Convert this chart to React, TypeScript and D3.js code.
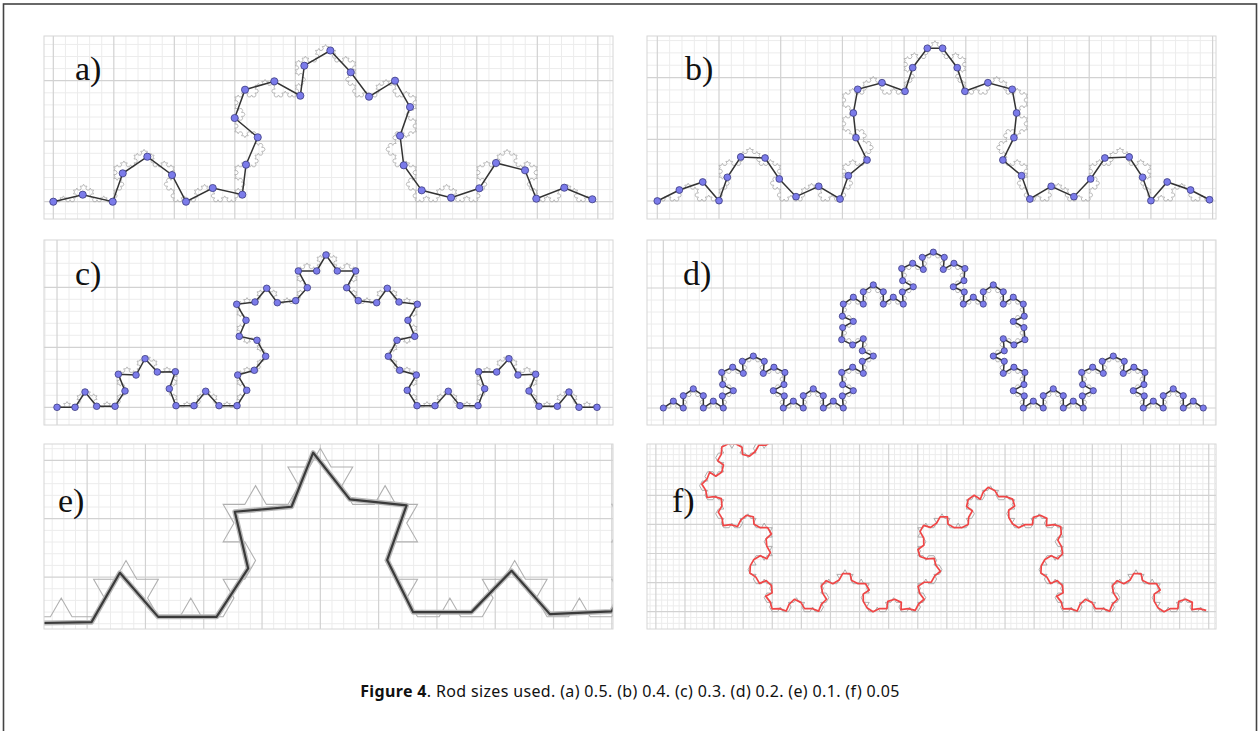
import React from "react";
import * as d3 from "d3";

type Pt = [number, number];

// rod size used for each panel (from the caption)
const rodSizes = [0.5, 0.4, 0.3, 0.2, 0.1, 0.05];
const panelLabels = ["a)", "b)", "c)", "d)", "e)", "f)"];
const captionBold = "Figure 4";
const captionRest = ". Rod sizes used. (a) 0.5. (b) 0.4. (c) 0.3. (d) 0.2. (e) 0.1. (f) 0.05";

// the Koch curve that the rods follow
const kochStart: Pt = [0, 0];
const kochEnd: Pt = [9, 0];
const kochLevel = 5;

// rod joints (curve units)
const rodsA: Pt[] = [
  [0, 0], [0.486, 0.116], [0.982, 0], [1.147, 0.469], [1.554, 0.744], [1.962, 0.441],
  [2.193, 0], [2.635, 0.226], [3.124, 0.116], [3.185, 0.612], [3.379, 1.064], [2.998, 1.383],
  [3.169, 1.851], [3.653, 1.99], [4.083, 1.752], [4.149, 2.248], [4.579, 2.499], [4.916, 2.139],
  [5.218, 1.736], [5.648, 2.0], [5.896, 1.565], [5.731, 1.091], [5.792, 0.602], [6.089, 0.188],
  [6.574, 0.066], [7.041, 0.221], [7.317, 0.64], [7.797, 0.519], [7.983, 0.05], [8.446, 0.231],
  [8.909, 0.04],
];

const rodsB: Pt[] = [
  [0, 0], [0.357, 0.178], [0.736, 0.308], [1.0, 0.005], [1.135, 0.384], [1.352, 0.713],
  [1.746, 0.697], [1.977, 0.357], [2.248, 0.07], [2.616, 0.238], [2.961, 0.032], [3.096, 0.41],
  [3.399, 0.664], [3.22, 1.026], [3.177, 1.426], [3.248, 1.81], [3.642, 1.917], [4.015, 1.778],
  [4.139, 2.16], [4.376, 2.475], [4.624, 2.475], [4.861, 2.16], [4.985, 1.778], [5.358, 1.917],
  [5.752, 1.81], [5.823, 1.426], [5.78, 1.026], [5.601, 0.664], [5.904, 0.41], [6.039, 0.032],
  [6.384, 0.238], [6.752, 0.07], [7.023, 0.357], [7.254, 0.697], [7.648, 0.713], [7.865, 0.384],
  [8.0, 0.005], [8.264, 0.308], [8.643, 0.178], [8.95, 0.02],
];

const rodsC: Pt[] = [
  [0, 0], [0.3, 0], [0.467, 0.255], [0.661, 0.017], [0.967, 0.017], [1.133, 0.272],
  [1.022, 0.55], [1.317, 0.538], [1.467, 0.81], [1.672, 0.588], [1.972, 0.593], [1.872, 0.31],
  [1.983, 0.027], [2.283, 0.027], [2.478, 0.267], [2.7, 0.027], [3.0, 0.027], [3.162, 0.283],
  [3.012, 0.538], [3.288, 0.617], [3.478, 0.85], [3.333, 1.117], [3.038, 1.183], [3.15, 1.45],
  [2.995, 1.717], [3.3, 1.755], [3.495, 1.983], [3.672, 1.743], [3.978, 1.777], [4.172, 1.993],
  [4.022, 2.272], [4.328, 2.272], [4.483, 2.538], [4.672, 2.272], [4.978, 2.272], [4.828, 1.993],
  [5.022, 1.777], [5.328, 1.743], [5.505, 1.983], [5.7, 1.755], [6.005, 1.717], [5.85, 1.45],
  [5.962, 1.183], [5.667, 1.117], [5.522, 0.85], [5.712, 0.617], [5.988, 0.538], [5.838, 0.283],
  [6.0, 0.027], [6.3, 0.027], [6.522, 0.267], [6.717, 0.027], [7.017, 0.027], [7.128, 0.31],
  [7.028, 0.593], [7.328, 0.588], [7.533, 0.81], [7.683, 0.538], [7.978, 0.55], [7.867, 0.272],
  [8.033, 0.017], [8.339, 0.017], [8.533, 0.255], [8.7, 0], [9.0, 0],
];

// in (d) every unit-long stretch of the curve carries the same 8 rods;
const rodPatternD: Pt[] = [
  [0, 0], [0.167, 0.115], [0.333, 0], [0.333, 0.205], [0.5, 0.32],
  [0.667, 0.205], [0.667, 0], [0.833, 0.115], [1, 0],
];

const rodsE: Pt[] = [
  [2.959, 1.637], [3.0075, 1.721], [3.1075, 1.7227], [3.1561, 1.8073], [3.2218, 1.7318],
  [3.322, 1.7318], [3.3762, 1.8148], [3.3533, 1.9119], [3.4506, 1.9205], [3.4877, 2.0131],
  [3.5506, 1.9332], [3.6479, 1.9229], [3.6146, 1.8291], [3.6592, 1.7399], [3.7593, 1.7399],
  [3.828, 1.8107], [3.8937, 1.7365], [3.9995, 1.7411], [4.048, 1.829],
];

// panel boxes on the page and the part of the curve each one shows
const panels = [
  { x: 44, y: 36, w: 569, h: 183, xDom: [-0.154, 9.251], yDom: [-0.286, 2.739], major: 1, lx: 75, ly: 80 },
  { x: 647, y: 36, w: 569, h: 183, xDom: [-0.167, 9.055], yDom: [-0.292, 2.674], major: 1, lx: 685, ly: 80 },
  { x: 44, y: 240, w: 569, h: 185, xDom: [-0.217, 9.267], yDom: [-0.295, 2.788], major: 1, lx: 75, ly: 285 },
  { x: 647, y: 240, w: 569, h: 185, xDom: [-0.272, 9.212], yDom: [-0.283, 2.8], major: 1, lx: 683, ly: 285 },
  { x: 44, y: 444, w: 569, h: 185, xDom: [3.026, 4.002], yDom: [1.711, 2.028], major: 0.1, lx: 58, ly: 512 },
  { x: 647, y: 444, w: 569, h: 185, xDom: [5.139, 9.05], yDom: [-0.119, 1.153], major: 0.2, lx: 672, ly: 512 },
];

function koch(a: Pt, b: Pt, level: number): Pt[] {
  if (level === 0) return [a, b];
  const dx = (b[0] - a[0]) / 3, dy = (b[1] - a[1]) / 3;
  const p1: Pt = [a[0] + dx, a[1] + dy];
  const p3: Pt = [a[0] + 2 * dx, a[1] + 2 * dy];
  const c = Math.cos(Math.PI / 3), s = Math.sin(Math.PI / 3);
  const p2: Pt = [p1[0] + dx * c - dy * s, p1[1] + dx * s + dy * c];
  const parts = [koch(a, p1, level - 1), koch(p1, p2, level - 1), koch(p2, p3, level - 1), koch(p3, b, level - 1)];
  const out: Pt[] = [];
  parts.forEach((p, i) => out.push(...(i === 0 ? p : p.slice(1))));
  return out;
}

// lay rods of fixed length along the curve, each joint on the curve
function rodChain(path: Pt[], r: number): Pt[] {
  const out: Pt[] = [path[0]];
  let P = path[0];
  let seg = 0;
  let tStart = 0;
  for (;;) {
    let found = false;
    for (let j = seg; j < path.length - 1; j++) {
      const A = path[j], B = path[j + 1];
      const t0 = j === seg ? tStart : 0;
      const dx = B[0] - A[0], dy = B[1] - A[1];
      const fx = A[0] - P[0], fy = A[1] - P[1];
      const qa = dx * dx + dy * dy, qb = 2 * (fx * dx + fy * dy), qc = fx * fx + fy * fy - r * r;
      const disc = qb * qb - 4 * qa * qc;
      if (disc < 0) continue;
      const sq = Math.sqrt(disc);
      const roots = [(-qb - sq) / (2 * qa), (-qb + sq) / (2 * qa)].filter((t) => t > t0 + 1e-9 && t <= 1);
      if (roots.length) {
        const t = Math.min(...roots);
        P = [A[0] + t * dx, A[1] + t * dy];
        out.push(P);
        seg = j;
        tStart = t;
        found = true;
        break;
      }
    }
    if (!found) break;
  }
  return out;
}

// repeat a local joint pattern on every stretch of a coarse curve
function patternChain(stretches: Pt[], pattern: Pt[]): Pt[] {
  const out: Pt[] = [];
  for (let j = 0; j < stretches.length - 1; j++) {
    const A = stretches[j], B = stretches[j + 1];
    const dx = B[0] - A[0], dy = B[1] - A[1];
    pattern.forEach(([u, v], k) => {
      if (j > 0 && k === 0) return;
      out.push([A[0] + u * dx - v * dy, A[1] + u * dy + v * dx]);
    });
  }
  return out;
}

const kochPts = koch(kochStart, kochEnd, kochLevel);
const kochFine = koch(kochStart, kochEnd, 6);
const rodsD = patternChain(koch(kochStart, kochEnd, 2), rodPatternD);
const rodsF = rodChain(kochFine, rodSizes[5]);
const chains = [rodsA, rodsB, rodsC, rodsD, rodsE, rodsF];

function gridValues(dom: number[], step: number) {
  const k0 = Math.ceil(dom[0] / step - 1e-9), k1 = Math.floor(dom[1] / step + 1e-9);
  return d3.range(k0, k1 + 1).map((k) => ({ v: k * step, major: k % 5 === 0 }));
}

function Panel({ i }: { i: number }) {
  const p = panels[i];
  const x = d3.scaleLinear().domain(p.xDom).range([p.x, p.x + p.w]);
  const y = d3.scaleLinear().domain(p.yDom).range([p.y + p.h, p.y]);
  const line = d3.line<Pt>().x((d) => x(d[0])).y((d) => y(d[1]));
  const minor = p.major / 5;
  const xs = gridValues(p.xDom, minor);
  const ys = gridValues(p.yDom, minor);
  const chain = chains[i];
  const dotR = [3.6, 3.4, 3.3, 3.1][i];
  return (
    <g>
      <defs>
        <clipPath id={`clip${i}`}>
          <rect x={p.x} y={p.y} width={p.w} height={p.h} />
        </clipPath>
      </defs>
      <g clipPath={`url(#clip${i})`}>
        <rect x={p.x} y={p.y} width={p.w} height={p.h} fill="#fff" />
        {xs.filter((g) => !g.major).map((g) => (
          <line key={`xm${g.v}`} x1={x(g.v)} x2={x(g.v)} y1={p.y} y2={p.y + p.h} stroke="#ececec" strokeWidth={1} />
        ))}
        {ys.filter((g) => !g.major).map((g) => (
          <line key={`ym${g.v}`} y1={y(g.v)} y2={y(g.v)} x1={p.x} x2={p.x + p.w} stroke="#ececec" strokeWidth={1} />
        ))}
        {xs.filter((g) => g.major).map((g) => (
          <line key={`xM${g.v}`} x1={x(g.v)} x2={x(g.v)} y1={p.y} y2={p.y + p.h} stroke="#d2d2d2" strokeWidth={1.2} />
        ))}
        {ys.filter((g) => g.major).map((g) => (
          <line key={`yM${g.v}`} y1={y(g.v)} y2={y(g.v)} x1={p.x} x2={p.x + p.w} stroke="#d2d2d2" strokeWidth={1.2} />
        ))}
        <path d={line(kochPts) ?? ""} fill="none" stroke={i === 5 ? "#a0a0a0" : "#b0b0b0"} strokeWidth={i === 4 ? 1.1 : 0.85} />
        {i === 4 && (
          <>
            <path d={line(chain) ?? ""} fill="none" stroke="#b8b8b8" strokeWidth={5} strokeLinejoin="round" />
            <path d={line(chain) ?? ""} fill="none" stroke="#3a3a3a" strokeWidth={2.2} strokeLinejoin="round" />
          </>
        )}
        {i === 5 && (
          <path d={line(chain) ?? ""} fill="none" stroke="#f04646" strokeWidth={1.7} strokeLinejoin="round" />
        )}
        {i < 4 && (
          <>
            <path d={line(chain) ?? ""} fill="none" stroke="#333" strokeWidth={1.5} />
            {chain.map((d, k) => (
              <circle key={k} cx={x(d[0])} cy={y(d[1])} r={dotR} fill="#7b7bea" stroke="#3c3c80" strokeWidth={0.8} />
            ))}
          </>
        )}
      </g>
      <rect x={p.x} y={p.y} width={p.w} height={p.h} fill="none" stroke="#d6d6d6" strokeWidth={1} />
      <text x={p.lx} y={p.ly} fontFamily="'Liberation Serif', serif" fontSize={34} fill="#111">
        {panelLabels[i]}
      </text>
    </g>
  );
}

export default function App() {
  return (
    <svg width={1258} height={731} style={{ position: "absolute", left: 0, top: 0, display: "block" }}>
      <rect x={0} y={0} width={1258} height={731} fill="#fff" />
      <rect x={3.5} y={4} width={1253} height={745} fill="none" stroke="#444" strokeWidth={1.6} />
      {panels.map((_, i) => (
        <Panel key={i} i={i} />
      ))}
      <text x={630} y={697} textAnchor="middle" fontFamily="'Noto Sans', sans-serif" fontSize={16} letterSpacing={0.35} fill="#111">
        <tspan fontWeight="bold">{captionBold}</tspan>
        <tspan>{captionRest}</tspan>
      </text>
    </svg>
  );
}
